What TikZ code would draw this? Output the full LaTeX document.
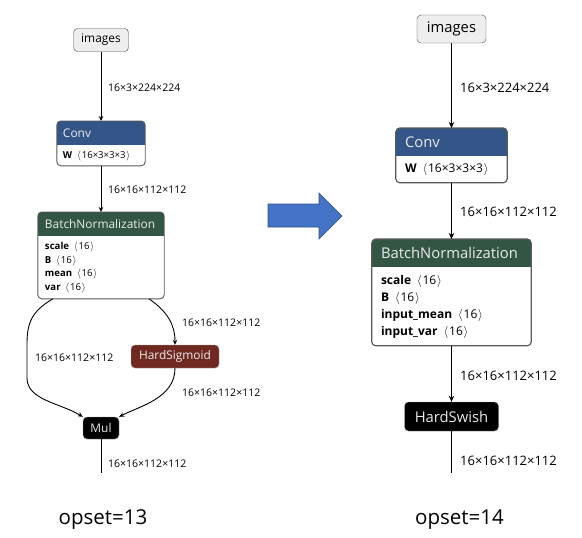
\documentclass[tikz,border=0pt]{standalone}
\usepackage{fontspec}
\setmainfont{Open Sans}
\usetikzlibrary{arrows.meta, positioning, backgrounds}
\definecolor{convblue}{HTML}{335588}
\definecolor{normgreen}{HTML}{335544}
\definecolor{actred}{HTML}{702921}
\definecolor{inputgray}{HTML}{EEEEEE}
\definecolor{arrowblue}{HTML}{4472C4}
\definecolor{arrowedge}{HTML}{2F528F}
\newcommand{\shp}[1]{\ \,$\langle$\kern0.8pt#1\kern0.8pt$\rangle$}
\newcommand{\opframe}[4]{%
  \begin{pgfonlayer}{background}
    \fill[white, rounded corners=4pt] (#1.north west) rectangle (#2.south east);
    \begin{scope}
      \clip[rounded corners=4pt] (#1.north west) rectangle (#2.south east);
      \fill[#3] (#1.north west) rectangle (#1.south east);
    \end{scope}
    \draw[black!65, line width=#4, rounded corners=4pt] (#1.north west) rectangle (#2.south east);
  \end{pgfonlayer}}

\begin{document}
\begin{tikzpicture}[
  x=1pt, y=-1pt,
  inp/.style={draw=black!70, fill=inputgray, rounded corners=4pt, inner sep=0pt},
  act/.style={draw=black!40, rounded corners=4pt, inner sep=0pt, text=white!92!black},
  hdr/.style={anchor=north, align=left, inner ysep=0pt, text=white!92!black},
  body/.style={align=left, inner ysep=0pt},
  labL/.style={anchor=west, inner sep=0pt, font=\fontsize{10.5}{12}\selectfont},
  labR/.style={anchor=west, inner sep=0pt, font=\fontsize{13}{15}\selectfont},
  titL/.style={font=\fontsize{11.9}{14}\selectfont},
  titR/.style={font=\fontsize{14.8}{17}\selectfont},
  edgeL/.style={line width=0.9pt, -{Stealth[length=5pt, width=4.5pt]}},
  edgeR/.style={line width=1.2pt, -{Stealth[length=6pt, width=5.5pt]}}
]
\useasboundingbox (0,0) rectangle (582,538);

\node[inp, titL, minimum width=55pt, minimum height=23pt] (imgL) at (101,40) {images};
\node[hdr, titL, text width=76pt, inner xsep=6pt, minimum height=24pt] (convLh) at (101,121) {Conv};
\node[body, below=0pt of convLh, text width=76pt, inner xsep=6pt, minimum height=20pt,
  font=\fontsize{9.6}{12}\selectfont] (convLb) {\textbf{W}\shp{16×3×3×3}};
\opframe{convLh}{convLb}{convblue}{0.9pt}
\node[hdr, titL, text width=112pt, inner xsep=7pt, minimum height=24pt] (bnLh) at (101,212) {BatchNormalization};
\node[body, below=0pt of bnLh, text width=112pt, inner xsep=7pt, minimum height=62pt,
  font=\fontsize{9.6}{13.7}\selectfont] (bnLb)
  {\textbf{scale}\shp{16}\\ \textbf{B}\shp{16}\\ \textbf{mean}\shp{16}\\ \textbf{var}\shp{16}};
\opframe{bnLh}{bnLb}{normgreen}{0.9pt}
\node[act, titL, fill=actred, minimum width=88pt, minimum height=23pt] (hsig) at (175,356.5) {HardSigmoid};
\node[act, titL, fill=black, minimum width=36pt, minimum height=22pt] (mul) at (101,428) {Mul};
\coordinate (outL) at (101,473);

\draw[edgeL] (imgL) -- (convLh);
\draw[edgeL] (convLb) -- (bnLh);
\draw[edgeL] ([xshift=-48pt]bnLb.south) .. controls (30,312) and (27,325) .. (27,345)
  -- (27,378) .. controls (27,400) and (60,403) .. (mul.north west);
\draw[edgeL] ([xshift=48pt]bnLb.south) .. controls (168,312) and (175,325) .. (hsig.north);
\draw[edgeL] (hsig.south) .. controls (175,398) and (140,406) .. (mul.north east);
\draw[line width=0.9pt] (mul) -- (outL);
\node[labL] (l1) at (108,88) {16×3×224×224};
\node[labL] (l2) at (108,190) {16×16×112×112};
\node[labL] (l3) at (182,323) {16×16×112×112};
\node[labL] (l4) at (35,358) {16×16×112×112};
\node[labL] (l5) at (182,393) {16×16×112×112};
\node[labL] (l6) at (108,464) {16×16×112×112};

\node[inp, titR, minimum width=69pt, minimum height=28pt] (imgR) at (451.5,29) {images};
\node[hdr, titR, text width=93pt, inner xsep=9pt, minimum height=28pt] (convRh) at (451.5,128) {Conv};
\node[body, below=0pt of convRh, text width=93pt, inner xsep=9pt, minimum height=26pt,
  font=\fontsize{12}{15}\selectfont] (convRb) {\textbf{W}\shp{16×3×3×3}};
\opframe{convRh}{convRb}{convblue}{1.2pt}
\node[hdr, titR, text width=141pt, inner xsep=9pt, minimum height=28pt] (bnRh) at (451.5,239) {BatchNormalization};
\node[body, below=0pt of bnRh, text width=141pt, inner xsep=9pt, minimum height=78pt,
  font=\fontsize{12}{17}\selectfont] (bnRb)
  {\textbf{scale}\shp{16}\\ \textbf{B}\shp{16}\\ \textbf{input\_mean}\shp{16}\\ \textbf{input\_var}\shp{16}};
\opframe{bnRh}{bnRb}{normgreen}{1.2pt}
\node[act, titR, fill=black, minimum width=94pt, minimum height=29pt] (hswish) at (451.5,416.5) {HardSwish};
\coordinate (outR) at (451.5,473);

\draw[edgeR] (imgR) -- (convRh);
\draw[edgeR] (convRb) -- (bnRh);
\draw[edgeR] (bnRb) -- (hswish);
\draw[line width=1.2pt] (hswish) -- (outR);
\node[labR] (r1) at (460,88) {16×3×224×224};
\node[labR] (r2) at (460,212) {16×16×112×112};
\node[labR] (r3) at (460,376) {16×16×112×112};
\node[labR] (r4) at (460,461) {16×16×112×112};

\draw[fill=arrowblue, draw=arrowedge, line width=0.7pt]
  (268,204) -- (319,204) -- (319,193) -- (342,216) -- (319,239) -- (319,227) -- (268,227) -- cycle;

\node[font=\fontsize{20.5}{24}\selectfont] (opL) at (103,520) {opset=13};
\node[font=\fontsize{20.5}{24}\selectfont] (opR) at (459.5,520) {opset=14};
\end{tikzpicture}
\end{document}
